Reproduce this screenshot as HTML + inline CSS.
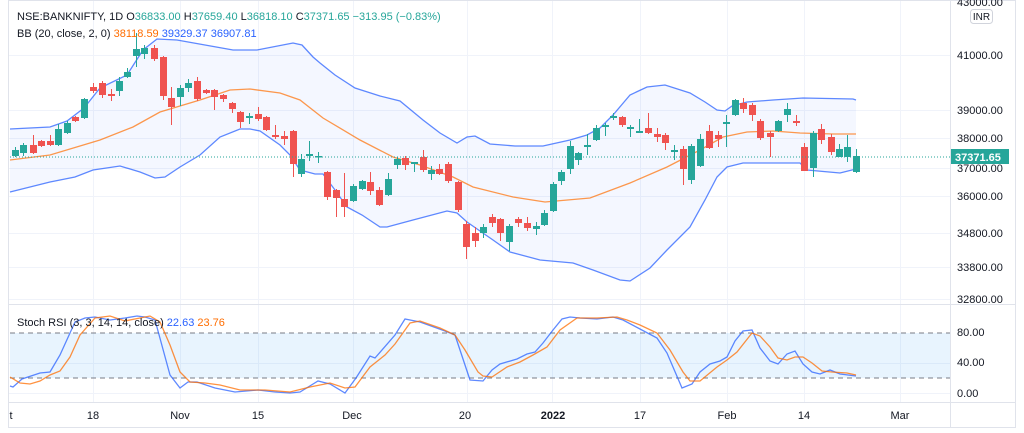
<!DOCTYPE html>
<html><head><meta charset="utf-8"><style>
html,body{margin:0;padding:0;background:#fff;}
svg{display:block;font-family:"Liberation Sans",sans-serif;}
</style></head><body>
<svg id="c" width="1024" height="433" xmlns="http://www.w3.org/2000/svg">
<rect x="0" y="0" width="1024" height="433" fill="#fff"/>
<g id="grid" stroke="#f0f3fa" stroke-width="1"></g>
<path id="bbfill" fill="#2962ff" fill-opacity="0.05" stroke="none"/>
<rect x="10" y="333" width="940" height="45" fill="#2196f3" fill-opacity="0.1"/>
<line x1="10" y1="333" x2="950" y2="333" stroke="#787b86" stroke-dasharray="5,4"/>
<line x1="10" y1="378" x2="950" y2="378" stroke="#787b86" stroke-dasharray="5,4"/>
<polyline id="bbu" fill="none" stroke="#2962ff" stroke-width="1.3" stroke-opacity="0.75"/>
<polyline id="bbl" fill="none" stroke="#2962ff" stroke-width="1.3" stroke-opacity="0.75"/>
<polyline id="bbm" fill="none" stroke="#ff6d00" stroke-width="1.3" stroke-opacity="0.7"/>
<g id="candles"></g>
<line x1="10" y1="157" x2="950" y2="157" stroke="#26a69a" stroke-dasharray="1,2"/>
<polyline id="sk" fill="none" stroke="#2962ff" stroke-width="1.3" stroke-opacity="0.75"/>
<polyline id="sd" fill="none" stroke="#ff6d00" stroke-width="1.3" stroke-opacity="0.75"/>
<!-- frame -->
<rect x="8.5" y="0.5" width="1007" height="427" fill="none" stroke="#e0e3eb"/>
<line x1="950.5" y1="0" x2="950.5" y2="428" stroke="#e0e3eb"/>
<line x1="8" y1="304.5" x2="1016" y2="304.5" stroke="#e0e3eb"/>
<line x1="8" y1="402.5" x2="1016" y2="402.5" stroke="#e0e3eb"/>
<!-- right axis labels -->
<g font-size="11" fill="#131722">
<text x="957" y="6">43000.00</text>
<text x="957" y="59">41000.00</text>
<text x="957" y="114">39000.00</text>
<text x="957" y="142">38000.00</text>
<text x="957" y="172">37000.00</text>
<text x="957" y="200">36000.00</text>
<text x="957" y="237">34800.00</text>
<text x="957" y="271">33800.00</text>
<text x="957" y="303">32800.00</text>
<text x="957" y="336">80.00</text>
<text x="957" y="366">40.00</text>
<text x="957" y="397">0.00</text>
</g>
<rect x="970.5" y="9.5" width="22" height="14" rx="3" fill="#fff" stroke="#d1d4dc"/>
<text x="981.5" y="20" font-size="10" fill="#131722" text-anchor="middle">INR</text>
<rect x="951" y="149" width="58" height="15" fill="#26a69a"/>
<text x="955" y="161" font-size="11" font-weight="bold" fill="#fff">37371.65</text>
<!-- time axis -->
<g font-size="11" fill="#131722" text-anchor="middle">
<text x="11" y="419">t</text>
<text x="93" y="419">18</text>
<text x="180" y="419">Nov</text>
<text x="258" y="419">15</text>
<text x="352" y="419">Dec</text>
<text x="465" y="419">20</text>
<text x="553" y="419" font-weight="bold">2022</text>
<text x="640" y="419">17</text>
<text x="727" y="419">Feb</text>
<text x="804" y="419">14</text>
<text x="900" y="419">Mar</text>
</g>
<!-- legends -->
<text x="17" y="20" font-size="11" fill="#131722">NSE:BANKNIFTY, 1D <tspan fill="#131722">O</tspan><tspan fill="#26a69a">36833.00</tspan> <tspan fill="#131722">H</tspan><tspan fill="#26a69a">37659.40</tspan> <tspan fill="#131722">L</tspan><tspan fill="#26a69a">36818.10</tspan> <tspan fill="#131722">C</tspan><tspan fill="#26a69a">37371.65</tspan> <tspan fill="#26a69a">−313.95 (−0.83%)</tspan></text>
<text x="17" y="37" font-size="11" fill="#131722">BB (20, close, 2, 0) <tspan fill="#ff6d00">38118.59</tspan> <tspan fill="#2962ff">39329.37</tspan> <tspan fill="#2962ff">36907.81</tspan></text>
<text x="17" y="326" font-size="11" fill="#131722">Stoch RSI (3, 3, 14, 14, close) <tspan fill="#2962ff">22.63</tspan> <tspan fill="#ff6d00">23.76</tspan></text>
</svg>
<script>
var NS="http://www.w3.org/2000/svg";
function el(t,a,p){var e=document.createElementNS(NS,t);for(var k in a)e.setAttribute(k,a[k]);p.appendChild(e);return e;}
var g=document.getElementById('grid');
[93,180,258,353,467,552,640,727,804,900].forEach(function(x){el('line',{x1:x+.5,y1:0,x2:x+.5,y2:402},g);});
[55,110,138,168,196,233,267,299,363,393].forEach(function(y){el('line',{x1:8,y1:y+.5,x2:950,y2:y+.5},g);});
function pts(a){return a.map(function(p){return p[0]+','+p[1];}).join(' ');}
var up=[[10,129],[50,127],[67,121],[84,108],[100,88],[127,75],[143,50],[157,39],[177,40],[233,50],[257,50],[293,43],[302,45],[313,57],[320,63],[335,75],[355,88],[380,96],[400,101],[423,120],[440,133],[457,143],[467,137],[475,136],[490,144],[515,146],[543,146],[570,140],[587,135],[600,128],[613,115],[630,95],[647,87],[665,85],[690,93],[705,102],[717,110],[725,111],[732,106],[747,102],[773,100],[803,98],[853,99],[856,100]];
var lo=[[10,192],[50,182],[75,177],[93,170],[120,166],[140,172],[155,178],[165,177],[180,167],[200,155],[220,137],[240,129],[250,129],[260,131],[280,145],[290,155],[300,170],[315,174],[323,174],[335,190],[347,207],[362,215],[380,227],[387,227],[413,220],[447,211],[457,213],[467,222],[493,240],[510,252],[540,260],[573,263],[593,270],[620,280],[630,281],[650,268],[667,250],[690,227],[705,200],[717,177],[727,167],[743,163],[800,163],[807,170],[840,173],[856,169]];
var mid=[[10,160],[50,155],[100,140],[133,127],[160,112],[200,100],[230,90],[250,89],[280,93],[300,100],[323,118],[360,140],[393,157],[420,165],[453,177],[473,187],[513,197],[545,202],[590,198],[630,183],[667,167],[700,150],[723,137],[747,132],[773,131],[800,133],[833,134],[856,134]];
document.getElementById('bbu').setAttribute('points',pts(up));
document.getElementById('bbl').setAttribute('points',pts(lo));
document.getElementById('bbm').setAttribute('points',pts(mid));
document.getElementById('bbfill').setAttribute('d','M'+pts(up)+' L'+pts(lo.slice().reverse())+' Z');
var C=[[15,150,156,147,157,1],[23,145,153,143,156,1],[33,145,153,135,154,0],[41,141,146,140,147,0],[50,141,145,135,146,0],[58,129,145,124,146,1],[67,123,133,121,134,1],[75,117,121,116,122,0],[84,99,118,98,119,1],[93,87,91,83,93,0],[102,83,95,81,98,0],[111,94,96,89,101,0],[119,81,91,77,96,1],[127,72,77,68,78,1],[136,49,56,33,67,1],[144,48,54,45,59,1],[154,48,59,45,61,0],[163,57,96,56,100,0],[171,98,107,87,125,0],[180,88,97,85,106,1],[188,83,88,79,92,1],[197,81,99,77,101,0],[206,90,93,89,94,0],[214,90,97,89,110,0],[223,95,99,94,102,0],[232,103,109,102,113,0],[240,112,122,111,128,0],[249,116,118,113,124,1],[258,114,119,107,121,0],[266,117,130,116,131,0],[275,135,137,125,139,0],[284,136,139,131,145,0],[293,131,164,130,177,0],[301,159,174,154,177,1],[309,154,156,141,161,1],[318,156,157,152,163,1],[327,172,197,171,200,0],[336,190,198,189,217,0],[344,199,207,173,217,0],[353,186,201,184,202,1],[362,181,189,180,190,1],[370,182,191,172,195,0],[379,190,205,187,206,0],[388,179,195,173,196,1],[397,159,165,157,169,1],[405,158,165,156,170,0],[414,162,164,162,172,1],[423,157,170,150,172,0],[431,170,174,166,180,1],[439,169,174,164,175,0],[448,164,181,162,183,0],[458,182,210,181,212,0],[466,224,247,221,259,0],[475,233,241,227,247,0],[483,227,233,224,238,1],[492,217,223,214,227,0],[500,219,233,218,241,0],[509,226,242,224,251,1],[518,219,223,217,227,0],[527,223,228,217,231,0],[536,226,229,222,235,1],[544,213,225,210,226,1],[553,184,211,182,212,1],[561,172,181,170,185,1],[570,146,169,141,174,1],[578,153,160,152,165,1],[587,145,147,134,155,1],[596,128,140,125,141,1],[605,125,127,123,136,1],[613,116,118,113,120,1],[622,117,125,116,127,0],[630,127,129,125,137,1],[639,131,133,119,133,1],[648,128,133,113,134,0],[657,134,137,128,142,0],[665,135,143,133,150,0],[674,150,152,145,160,1],[683,149,169,146,185,0],[691,146,180,144,184,1],[700,139,166,134,167,1],[709,131,148,125,149,0],[718,135,139,131,147,0],[726,122,124,115,147,1],[735,100,115,99,116,1],[743,103,109,98,113,0],[752,105,115,103,121,0],[760,121,138,119,140,0],[770,133,137,131,157,0],[778,121,131,120,132,1],[787,109,115,103,122,1],[796,121,123,115,126,0],[804,147,171,143,171,0],[813,133,168,131,177,1],[821,129,140,124,144,0],[831,137,152,134,155,0],[839,149,157,144,157,1],[847,147,157,135,162,1],[856,156,172,149,173,1]];
var cg=document.getElementById('candles');
C.forEach(function(c){var col=c[5]?'#26a69a':'#ef5350';
el('line',{x1:c[0]+.5,y1:c[3],x2:c[0]+.5,y2:c[4],stroke:col,'stroke-width':1},cg);
el('rect',{x:c[0]-3,y:c[1],width:7,height:Math.max(1.5,c[2]-c[1]),fill:col},cg);});
var sk=[[10,386],[13,387],[22,379],[40,373],[50,372],[60,355],[75,322],[85,318],[95,317],[110,320],[125,318],[137,316],[145,317],[155,320],[170,375],[180,388],[188,382],[197,382],[215,388],[235,392],[258,390],[275,392],[290,393],[300,392],[318,381],[330,384],[345,393],[356,378],[370,356],[375,358],[395,335],[405,319],[420,322],[445,331],[455,335],[465,365],[470,380],[483,381],[492,370],[500,364],[517,359],[527,354],[535,352],[543,343],[553,330],[562,319],[570,317],[580,318],[597,319],[613,317],[623,320],[640,329],[657,338],[667,353],[682,388],[692,384],[700,372],[710,364],[720,361],[727,357],[735,341],[743,331],[752,330],[760,348],[770,361],[778,364],[787,354],[795,351],[803,364],[812,372],[820,374],[830,370],[840,374],[848,375],[856,376]];
var sd=[[10,377],[20,383],[30,384],[40,381],[50,375],[60,371],[70,357],[80,335],[95,318],[110,316],[125,321],[140,318],[150,316],[160,322],[170,345],[180,372],[190,382],[205,383],[220,385],[240,390],[265,390],[290,392],[310,387],[330,383],[345,388],[355,387],[370,367],[385,355],[395,344],[410,323],[420,321],[440,328],[455,335],[465,350],[478,372],[483,376],[492,377],[507,367],[520,362],[533,355],[547,347],[560,330],[577,318],[597,318],[617,317],[627,320],[640,325],[657,333],[670,350],[683,372],[690,381],[700,381],[717,367],[727,360],[737,352],[752,333],[760,336],[770,347],[778,358],[787,360],[795,357],[803,357],[812,363],[822,371],[832,372],[847,373],[856,375]];
document.getElementById('sk').setAttribute('points',pts(sk));
document.getElementById('sd').setAttribute('points',pts(sd));
</script>
</body></html>
